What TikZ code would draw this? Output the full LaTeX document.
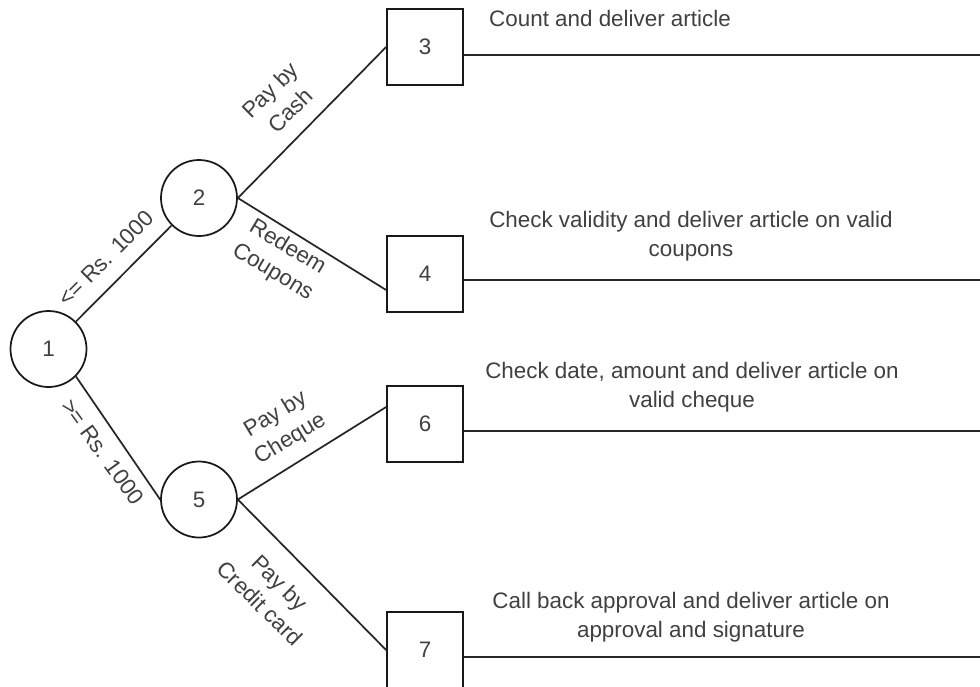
\documentclass[tikz,border=0pt]{standalone}
\usepackage{fontspec}
\setmainfont{Liberation Sans}
\begin{document}
\begin{tikzpicture}[x=0.75pt,y=-0.75pt,
  txt/.style={font=\fontsize{16.8}{21.5}\selectfont, text=black!75},
  state/.style={circle, draw=black!90, line width=1.3pt, minimum size=57pt, inner sep=0pt, txt},
  act/.style={rectangle, draw=black!90, line width=1.3pt, minimum size=57pt, inner sep=0pt, txt},
  lbl/.style={txt, align=center, inner sep=0pt},
  desc/.style={txt, align=center, inner sep=0pt},
  conn/.style={line width=1.3pt, draw=black!85}]
\useasboundingbox (0,0) rectangle (980,686);
% decision nodes
\node[state] (n1) at (48.5,349) {1};
\node[state] (n2) at (199,198) {2};
\node[state] (n5) at (199,499.5) {5};
% action boxes
\node[act] (n3) at (425,47) {3};
\node[act] (n4) at (425,274) {4};
\node[act] (n6) at (425,424) {6};
\node[act] (n7) at (425,650) {7};
% branches
\draw[conn] (n1.45) -- (n2.225);
\draw[conn] (n1.-45) -- (n5.west);
\draw[conn] (n2.east) -- (n3.west);
\draw[conn] (n2.east) -- ([yshift=-12pt]n4.west);
\draw[conn] (n5.east) -- ([yshift=12.75pt]n6.west);
\draw[conn] (n5.east) -- (n7.west);
% edge labels
\node[lbl, rotate=45] (la) at (106,258) {<= Rs. 1000};
\node[lbl, rotate=-54] (lb) at (103,452) {>= Rs. 1000};
\node[lbl, rotate=44.6] (lc) at (280,100) {Pay by\\Cash};
\node[lbl, rotate=-31] (ld) at (280,260) {Redeem\\Coupons};
\node[lbl, rotate=31] (le) at (283,427) {Pay by\\Cheque};
\node[lbl, rotate=-44.6] (lf) at (270,593) {Pay by\\Credit card};
% outcome lines
\coordinate (e3) at (980,55);
\coordinate (e4) at (980,280);
\coordinate (e6) at (980,431);
\coordinate (e7) at (980,657);
\draw[conn] (n3.east |- e3) -- (e3);
\draw[conn] (n4.east |- e4) -- (e4);
\draw[conn] (n6.east |- e6) -- (e6);
\draw[conn] (n7.east |- e7) -- (e7);
% descriptions
\node[desc] (d3) at (610,18) {Count and deliver article};
\node[desc] (d4) at (691,236) {Check validity and deliver article on valid\\coupons};
\node[desc] (d6) at (692,387) {Check date, amount and deliver article on\\valid cheque};
\node[desc] (d7) at (691,617) {Call back approval and deliver article on\\approval and signature};
\end{tikzpicture}
\end{document}
